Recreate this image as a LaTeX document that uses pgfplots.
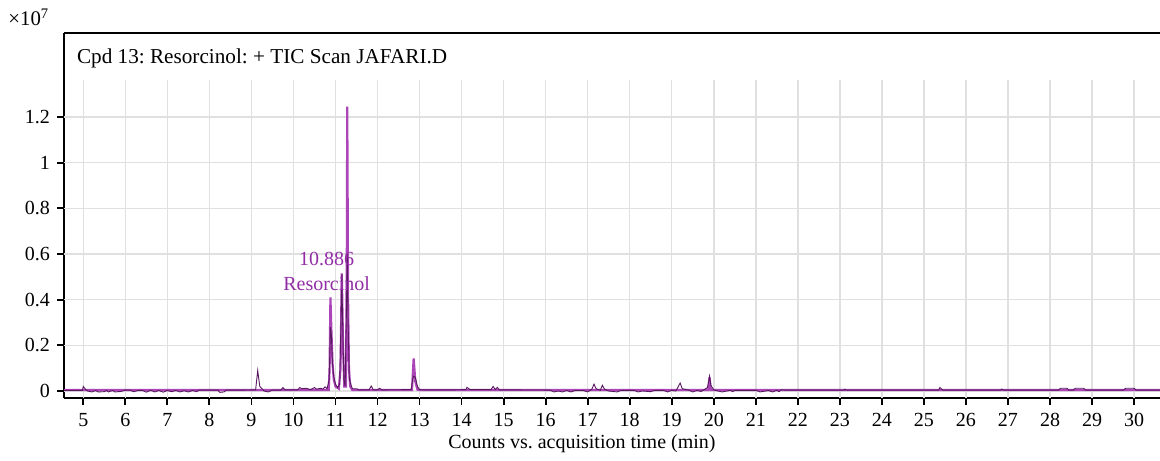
\documentclass[border=0pt]{standalone}
\usepackage{pgfplots}
\pgfplotsset{compat=1.18}
\usepackage{fontspec}
\setmainfont{Liberation Serif}
\frenchspacing
\definecolor{lightp}{RGB}{172,70,184}
\definecolor{darkp}{RGB}{88,24,94}
\definecolor{annp}{RGB}{145,45,165}
\definecolor{gridc}{RGB}{224,224,224}
\begin{document}
\begin{tikzpicture}
\useasboundingbox (-32pt,-31pt) rectangle (548pt,199pt);
\begin{axis}[
  scale only axis,
  width=548pt, height=182.5pt,
  xmin=4.541, xmax=30.617,
  ymin=-0.0307, ymax=1.568,
  axis x line*=bottom, axis y line*=left,
  axis line style={black, line width=0.8pt},
  xtick={5,...,30},
  ytick={0,0.2,0.4,0.6,0.8,1,1.2},
  yticklabels={0,0.2,0.4,0.6,0.8,1,1.2},
  scaled ticks=false,
  tick align=outside,
  major tick length=3.5pt,
  tick style={black, line width=0.9pt},
  /pgf/number format/assume math mode=true,
  tick label style={font=\fontsize{10}{12}\selectfont},
  xticklabel style={yshift=-0.5pt},
  clip mode=individual,
]
\pgfplotsinvokeforeach{5,...,30}{\draw[gridc, line width=0.75pt] (axis cs:#1,-0.0307) -- (axis cs:#1,1.362);}
\pgfplotsinvokeforeach{0,0.2,0.4,0.6,0.8,1,1.2}{\draw[gridc, line width=0.75pt] (axis cs:4.541,#1) -- (axis cs:30.617,#1);}
% light trace
\addplot[lightp, line width=1.1pt] coordinates {
(4.541,0.004) (10.84,0.004) (10.86,0.10) (10.88,0.41) (10.90,0.28) (10.93,0.12) (10.96,0.05) (11.00,0.02) (11.08,0.01)
(11.12,0.10) (11.15,0.515) (11.18,0.20) (11.21,0.02) (11.25,0.02) (11.27,0.60) (11.28,1.245) (11.30,0.40) (11.32,0.10)
(11.35,0.02) (11.40,0.004) (12.82,0.004) (12.86,0.143) (12.90,0.04) (12.95,0.006) (13.00,0.004)
(19.87,0.004) (19.90,0.06) (19.93,0.004) (30.617,0.004)};
% dark trace
\addplot[darkp, line width=0.45pt] coordinates {
(4.541,0.003) (4.98,0.003) (5.00,0.02) (5.05,0.008) (5.10,0.0) (5.20,-0.004) (5.30,0.002) (5.35,-0.004) (5.50,-0.003)
(5.55,0.002) (5.60,-0.004) (5.70,0.002) (5.75,-0.004) (5.90,-0.002) (6.00,0.004) (6.10,0.004) (6.20,-0.003) (6.30,0.002)
(6.40,0.003) (6.50,-0.005) (6.60,0.003) (6.70,-0.004) (6.80,0.002) (6.90,-0.005) (7.00,0.002) (7.10,-0.003) (7.20,0.002)
(7.30,-0.004) (7.40,0.001) (7.50,-0.004) (7.60,0.002) (7.70,-0.003) (7.75,0.004) (7.90,0.004) (8.20,0.004) (8.25,-0.006)
(8.35,-0.004) (8.40,0.004) (8.80,0.004) (9.10,0.005) (9.15,0.09) (9.17,0.06) (9.20,0.02) (9.30,0.0) (9.40,-0.004)
(9.50,0.004) (9.70,0.004) (9.75,0.015) (9.80,0.005) (10.10,0.005) (10.15,0.015) (10.20,0.01) (10.30,0.012) (10.40,0.006)
(10.50,0.015) (10.55,0.008) (10.65,0.012) (10.70,0.008) (10.75,0.018) (10.80,0.01) (10.85,0.05) (10.88,0.28) (10.90,0.25)
(10.93,0.12) (10.96,0.06) (11.00,0.03) (11.05,0.015) (11.10,0.03) (11.13,0.30) (11.15,0.51) (11.17,0.30) (11.20,0.05)
(11.23,0.02) (11.26,0.35) (11.28,0.60) (11.30,0.30) (11.33,0.05) (11.40,0.01) (11.50,0.01) (11.55,0.005) (11.80,0.005)
(11.85,0.022) (11.90,0.005) (12.00,0.005) (12.05,0.012) (12.10,0.005) (12.80,0.006) (12.85,0.065) (12.90,0.06)
(12.95,0.02) (13.00,0.006) (13.10,0.005) (13.80,0.005) (14.10,0.006) (14.13,0.016) (14.20,0.006) (14.70,0.006)
(14.75,0.02) (14.80,0.006) (14.85,0.016) (14.90,0.005) (16.10,0.004) (16.20,-0.004) (16.30,0.0) (16.40,-0.004)
(16.50,0.002) (16.60,-0.004) (16.70,0.002) (16.90,0.002) (17.00,-0.004) (17.10,0.008) (17.15,0.03) (17.20,0.01)
(17.30,0.003) (17.35,0.025) (17.40,0.008) (17.50,0.0) (17.60,-0.002) (17.70,-0.004) (17.80,0.003) (18.10,0.003)
(18.20,-0.004) (18.30,0.0) (18.50,-0.003) (18.60,0.003) (18.80,0.003) (18.90,-0.004) (19.00,0.003) (19.10,0.0)
(19.20,0.035) (19.25,0.01) (19.40,0.004) (19.50,-0.004) (19.60,0.002) (19.70,-0.002) (19.85,0.015) (19.90,0.065)
(19.93,0.025) (20.00,0.005) (20.10,0.0) (20.20,-0.004) (20.40,0.003) (20.45,-0.003) (20.50,0.003) (21.00,0.003)
(21.10,-0.004) (21.30,0.002) (21.40,-0.004) (21.50,0.003) (21.55,-0.003) (21.60,0.005) (21.70,0.004) (23.10,0.004)
(23.12,0.008) (23.15,0.004) (25.35,0.004) (25.38,0.015) (25.45,0.004) (26.82,0.004) (26.85,0.008) (26.90,0.004)
(28.20,0.004) (28.25,0.012) (28.40,0.012) (28.45,0.004) (28.55,0.004) (28.60,0.012) (28.80,0.012) (28.85,0.004)
(29.75,0.004) (29.80,0.012) (30.00,0.012) (30.05,0.004) (30.617,0.004)};
\node[annp, align=center, font=\fontsize{10}{12.5}\selectfont] at (axis cs:10.79,0.525) {10.886\\Resorcinol};
\draw[black, line width=0.8pt] (rel axis cs:0,1) -- (rel axis cs:1,1);
\node[anchor=west, font=\fontsize{10.6}{13}\selectfont] at (rel axis cs:0,1) [xshift=3pt, yshift=-12.5pt] {Cpd 13: Resorcinol: + TIC Scan JAFARI.D};
\node[anchor=west, font=\fontsize{10.4}{12}\selectfont, inner sep=0pt] at (rel axis cs:0,1) [xshift=-28pt, yshift=8pt] {×10\textsuperscript{7}};
\node[font=\fontsize{10}{12}\selectfont] at (rel axis cs:0.4726,0) [yshift=-23pt] {Counts vs. acquisition time (min)};
\end{axis}
\end{tikzpicture}
\end{document}
